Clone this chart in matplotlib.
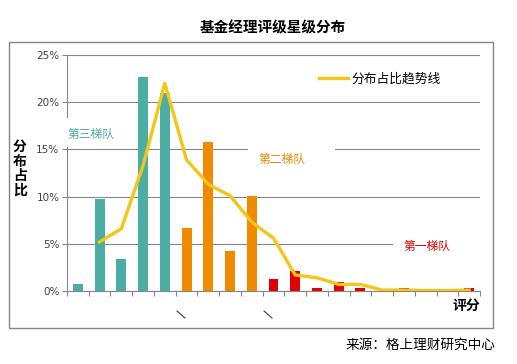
import matplotlib
matplotlib.use("Agg")
import matplotlib.pyplot as plt
from matplotlib.patches import Rectangle
from matplotlib.lines import Line2D
import numpy as np

plt.rcParams['font.family'] = ['Noto Sans CJK SC', 'DejaVu Sans']

# ---- data ----
tier_names = ["第三梯队", "第二梯队", "第一梯队"]
tier3_values = [0.7, 9.7, 3.4, 22.7, 21.0]            # categories 0-4
tier2_values = [6.7, 15.8, 4.2, 10.1]                 # categories 5-8
tier1_values = [1.3, 2.1, 0.35, 1.0, 0.35, 0.0, 0.3, 0.0, 0.0, 0.3]  # categories 9-18
trend_values = [5.2, 6.6, 13.3, 22.0, 13.9, 11.3, 10.1, 7.3, 5.6, 1.7,
                1.4, 0.7, 0.7, 0.1, 0.1, 0.05, 0.05, 0.1]   # categories 1-18
y_ticks = [0, 5, 10, 15, 20, 25]
y_tick_labels = ["0%", "5%", "10%", "15%", "20%", "25%"]

W, H = 517, 364
fig = plt.figure(figsize=(W / 100, H / 100), dpi=100)

def px(x, y):
    return (x / W, 1 - y / H)

grey = "#868686"
teal = "#4BADA3"
orange = "#F08A00"
red = "#E30000"
yellow = "#F5C518"

L, R, T, B = 67, 480, 55, 291
ax = fig.add_axes([L / W, 1 - B / H, (R - L) / W, (B - T) / H])

n3, n2, n1 = len(tier3_values), len(tier2_values), len(tier1_values)
x3 = np.arange(n3)
x2 = np.arange(n3, n3 + n2)
x1 = np.arange(n3 + n2, n3 + n2 + n1)
ncat = n3 + n2 + n1
bw = 0.46
ax.bar(x3, tier3_values, width=bw, color=teal, zorder=2)
ax.bar(x2, tier2_values, width=bw, color=orange, zorder=2)
ax.bar(x1, tier1_values, width=bw, color=red, zorder=2)
xt = np.arange(1, 1 + len(trend_values))
ax.plot(xt, trend_values, color=yellow, lw=2.4, zorder=3, solid_joinstyle='round',
        label="分布占比趋势线")

ax.set_xlim(-0.5, ncat - 0.5)
ax.set_ylim(0, 25)
ax.set_yticks(y_ticks)
ax.set_yticklabels(y_tick_labels, fontsize=7.5, color="#404040", family="DejaVu Sans")
ax.set_xticks(np.arange(ncat + 1) - 0.5)
ax.set_xticklabels([])
ax.tick_params(axis='both', color=grey, length=3.5, width=0.8, direction='out')
ax.tick_params(axis='y', pad=2)
ax.grid(axis='y', color=grey, lw=0.8, zorder=0.5)
ax.set_axisbelow(True)
for s in ['top', 'right']:
    ax.spines[s].set_visible(False)
for s in ['left', 'bottom']:
    ax.spines[s].set_color(grey)
    ax.spines[s].set_linewidth(0.8)

# white boxes behind tier labels
for (x0, y0, x1_, y1_, z) in [(60, 118, 130, 147, 2.7), (248, 146, 335, 170, 1), (393, 235, 482, 257, 1)]:
    ax.add_patch(Rectangle(px(x0, y1_), (x1_ - x0) / W, (y1_ - y0) / H,
                           transform=fig.transFigure, facecolor="white", edgecolor="none",
                           zorder=z, clip_on=False))

fig.text(*px(67, 134), tier_names[0], color=teal, fontsize=8.5, va='center', ha='left', zorder=5)
fig.text(*px(258, 159), tier_names[1], color=orange, fontsize=8.5, va='center', ha='left', zorder=5)
fig.text(*px(403, 246), tier_names[2], color=red, fontsize=8.5, va='center', ha='left', zorder=5)

leg = ax.legend(loc='center left', bbox_to_anchor=px(319, 79), bbox_transform=fig.transFigure,
                frameon=False, fontsize=9.2, handlelength=2.3, handletextpad=0.2, borderpad=0,
                borderaxespad=0)

# chart frame
fig.add_artist(Rectangle(px(9, 328), (493 - 9) / W, (328 - 42) / H, transform=fig.transFigure,
                         facecolor='none', edgecolor=grey, lw=1.0))

fig.text(*px(273, 27), "基金经理评级星级分布", fontsize=10.5, fontweight='bold', ha='center', va='center')
fig.text(*px(20, 169), "分\n布\n占\n比", fontsize=10, fontweight='bold', ha='center', va='center',
         linespacing=1.05)
fig.text(*px(466, 306), "评分", fontsize=10, fontweight='bold', ha='center', va='center')
fig.text(*px(495, 345), "来源：格上理财研究中心", fontsize=9.8, ha='right', va='center')

for xa in (177, 264):
    (a, b), (c, d) = px(xa, 311), px(xa + 8, 318)
    fig.add_artist(Line2D([a, c], [b, d], color="#404040", lw=0.8, transform=fig.transFigure))

fig.savefig("out.png", dpi=100)
